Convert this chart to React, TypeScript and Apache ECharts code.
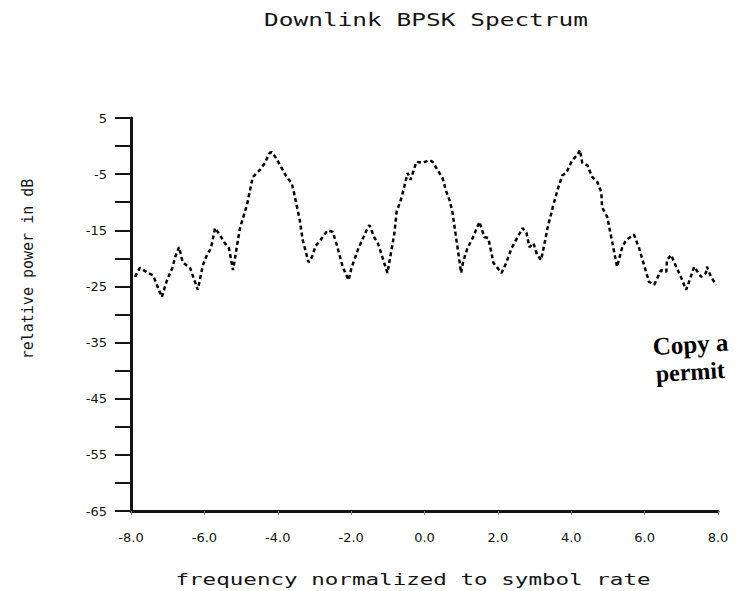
import React, { useEffect, useRef } from "react";
import * as echarts from "echarts";

const titleText = "Downlink BPSK Spectrum";
const xAxisName = "frequency normalized to symbol rate";
const yAxisName = "relative power in dB";

const freq: number[] = [
  -7.89, -7.76, -7.54, -7.4, -7.16, -7.02, -6.86, -6.8, -6.69, -6.59, -6.39, -6.18, -6.04, -5.93, -5.82,
  -5.71, -5.58, -5.44, -5.33, -5.22, -5.03, -4.84, -4.68, -4.49, -4.35, -4.22, -4.16, -4.05, -3.86, -3.76,
  -3.62, -3.56, -3.4, -3.32, -3.16, -3.07, -2.97, -2.83, -2.64, -2.5, -2.39, -2.23, -2.07, -1.99, -1.8,
  -1.58, -1.5, -1.36, -1.28, -1.01, -0.82, -0.76, -0.63, -0.46, -0.38, -0.22, -0.05, 0.14, 0.22, 0.49,
  0.6, 0.68, 0.76, 1.0, 1.05, 1.17, 1.31, 1.44, 1.5, 1.63, 1.74, 1.88, 1.99, 2.1, 2.23,
  2.37, 2.45, 2.67, 2.78, 2.86, 2.97, 3.07, 3.18, 3.37, 3.46, 3.51, 3.65, 3.76, 3.86, 4.03,
  4.16, 4.24, 4.3, 4.44, 4.57, 4.71, 4.82, 4.84, 4.98, 5.25, 5.39, 5.5, 5.71, 5.85, 6.12,
  6.26, 6.45, 6.59, 6.61, 6.72, 6.86, 6.99, 7.13, 7.21, 7.35, 7.54, 7.67, 7.7, 7.81, 7.95,
];

const powerDb: number[] = [
  -23.3, -21.7, -22.6, -23.0, -26.9, -23.9, -21.5, -19.8, -18.0, -20.7, -21.7, -25.6, -21.2, -19.4, -18.2,
  -14.6, -15.8, -17.3, -18.2, -22.1, -14.6, -10.5, -5.5, -4.3, -3.0, -1.2, -1.1, -2.1, -4.3, -5.5,
  -6.6, -8.2, -13.2, -16.7, -20.7, -19.8, -17.8, -16.7, -15.0, -15.3, -17.6, -21.5, -23.9, -21.7, -18.2,
  -15.0, -14.1, -16.4, -17.1, -22.6, -15.5, -11.7, -9.3, -4.8, -6.0, -2.8, -3.0, -2.5, -2.8, -5.7,
  -8.2, -9.6, -11.7, -22.6, -20.7, -18.2, -16.4, -14.4, -13.5, -16.2, -16.4, -20.8, -21.7, -22.6, -20.8,
  -18.2, -17.3, -14.6, -15.5, -18.0, -17.3, -19.4, -20.3, -14.1, -11.9, -10.5, -7.3, -5.2, -4.8, -2.5,
  -1.6, -0.7, -3.0, -3.4, -5.5, -6.4, -8.2, -10.9, -12.6, -21.5, -18.0, -16.7, -15.8, -18.2, -24.2,
  -24.7, -22.1, -22.4, -20.3, -19.4, -21.5, -23.3, -25.6, -24.2, -21.5, -23.3, -22.6, -21.5, -23.3, -24.7,
];

const xMin = -8;
const xMax = 8;
const xStep = 2;
const yMin = -65;
const yMax = 5;
const yStep = 5;
const yLabelEvery = 10;

const stampLine1 = "Copy a";
const stampLine2 = "permit";

const FONT = "'DejaVu Sans', sans-serif";
const MONO = "'DejaVu Sans Mono', monospace";
const INK = "#141414";

export default function App() {
  const ref = useRef<HTMLDivElement>(null);

  useEffect(() => {
    if (!ref.current) return;
    const chart = echarts.init(ref.current, undefined, { renderer: "svg" });
    const data = freq.map((f, i) => [f, powerDb[i]]);
    chart.setOption({
      animation: false,
      backgroundColor: "#ffffff",
      grid: { left: 131, right: 23, top: 118, bottom: 80, containLabel: false },
      xAxis: {
        type: "value",
        min: xMin,
        max: xMax,
        interval: xStep,
        axisLine: { show: true, onZero: false, lineStyle: { color: INK, width: 3 } },
        axisTick: { show: true, length: 4, lineStyle: { color: "#888", width: 1 } },
        axisLabel: {
          margin: 20,
          fontFamily: FONT,
          fontSize: 13,
          color: INK,
          formatter: (v: number) => v.toFixed(1),
        },
        splitLine: { show: false },
      },
      yAxis: {
        type: "value",
        min: yMin,
        max: yMax,
        interval: yStep,
        axisLine: { show: true, onZero: false, lineStyle: { color: INK, width: 3 } },
        axisTick: { show: true, length: 16, lineStyle: { color: INK, width: 2 } },
        axisLabel: {
          margin: 24,
          fontFamily: FONT,
          fontSize: 13,
          color: INK,
          formatter: (v: number) => ((Math.round(v - yMin) % yLabelEvery === 0) ? String(v) : ""),
        },
        splitLine: { show: false },
      },
      series: [
        {
          type: "line",
          data,
          showSymbol: false,
          symbol: "none",
          smooth: false,
          lineStyle: { color: "#000", width: 2.5, type: [4, 3] },
        },
      ],
      graphic: [
        {
          type: "text",
          x: 426,
          y: 20,
          scaleX: 1.44,
          style: {
            text: titleText,
            font: `17px ${MONO}`,
            fill: INK,
            textAlign: "center",
            textVerticalAlign: "middle",
          },
        },
        {
          type: "text",
          x: 413,
          y: 580,
          scaleX: 1.41,
          style: {
            text: xAxisName,
            font: `16px ${MONO}`,
            fill: INK,
            textAlign: "center",
            textVerticalAlign: "middle",
          },
        },
        {
          type: "text",
          x: 28,
          y: 269,
          rotation: Math.PI / 2,
          style: {
            text: yAxisName,
            font: `15px ${MONO}`,
            fill: INK,
            textAlign: "center",
            textVerticalAlign: "middle",
          },
        },
        {
          type: "text",
          x: 652,
          y: 334,
          rotation: 0.06,
          style: {
            text: stampLine1,
            font: "bold 25px 'Liberation Serif', serif",
            fill: "#000",
          },
        },
        {
          type: "text",
          x: 655,
          y: 362,
          rotation: 0.06,
          style: {
            text: stampLine2,
            font: "bold 24px 'Liberation Serif', serif",
            fill: "#000",
          },
        },
      ],
    });
    return () => chart.dispose();
  }, []);

  return <div ref={ref} style={{ width: 741, height: 591, position: "absolute", left: 0, top: 0 }} />;
}
